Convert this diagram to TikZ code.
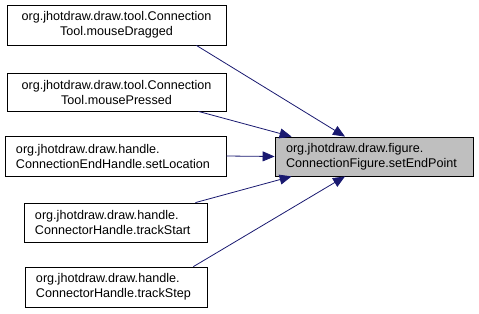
\documentclass[tikz,border=0pt]{standalone}
\usepackage{fontspec}
\setmainfont{Liberation Sans}
\usetikzlibrary{arrows.meta}
\definecolor{edgeblue}{HTML}{191970}
\definecolor{focusgrey}{HTML}{BFBFBF}
\tikzset{
  fn/.style={draw=black, line width=0.8bp, fill=white, inner sep=0pt,
    font=\fontsize{12.6bp}{15bp}\selectfont},
  fnc/.style={fn, align=center},
  fnl/.style={fn, align=left},
  focus/.style={fnl, fill=focusgrey},
  call/.style={draw=edgeblue, line width=0.8bp,
    -{Triangle[length=12bp,width=10bp]}},
}
\begin{document}
\begin{tikzpicture}[x=1bp,y=-1bp]
  \useasboundingbox (0,0) rectangle (479,313);
  % callers
  \node[fnc, minimum width=219bp, minimum height=40bp] (drag) at (116.5,25)
    {org.jhotdraw.draw.tool.Connection\\Tool.mouseDragged};
  \node[fnc, minimum width=219bp, minimum height=38bp] (press) at (116.5,92)
    {org.jhotdraw.draw.tool.Connection\\Tool.mousePressed};
  \node[fnl, minimum width=221bp, minimum height=40bp, text width=199bp] (setloc) at (115.5,156)
    {org.jhotdraw.draw.handle.\\ConnectionEndHandle.setLocation};
  \node[fnl, minimum width=183bp, minimum height=39bp, text width=161bp] (tstart) at (115.5,222.5)
    {org.jhotdraw.draw.handle.\\ConnectorHandle.trackStart};
  \node[fnl, minimum width=182bp, minimum height=40bp, text width=160bp] (tstep) at (116,287)
    {org.jhotdraw.draw.handle.\\ConnectorHandle.trackStep};
  % callee
  \node[focus, minimum width=198bp, minimum height=39bp, text width=176bp] (target) at (374,156.5)
    {org.jhotdraw.draw.figure.\\ConnectionFigure.setEndPoint};
  % call edges
  \draw[call] ([xshift=-30bp]drag.south east) -- ([xshift=-29bp]target.north);
  \draw[call] ([xshift=-28bp]press.south east) -- ([xshift=17bp]target.north west);
  \draw[call] (setloc.east) -- (target.west);
  \draw[call] ([xshift=-12bp]tstart.north east) -- ([xshift=17bp]target.south west);
  \draw[call] ([xshift=-14bp]tstep.north east) -- ([xshift=-29bp]target.south);
\end{tikzpicture}
\end{document}
